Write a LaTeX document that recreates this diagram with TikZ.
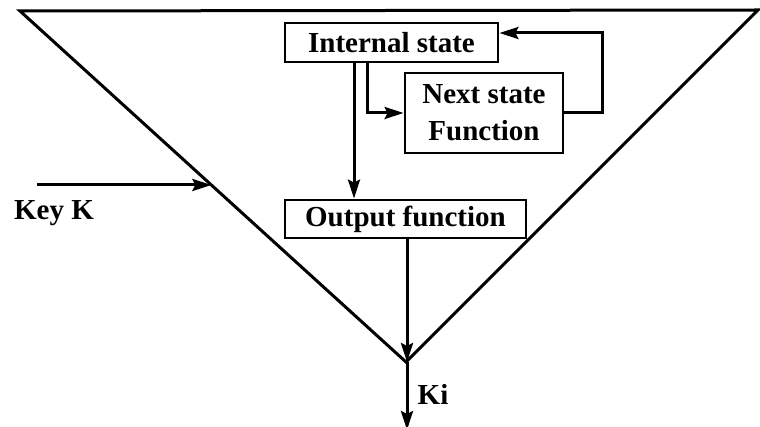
\documentclass[tikz,border=0pt]{standalone}
\usepackage{fontspec}
\setmainfont{Liberation Serif}
\usetikzlibrary{arrows.meta,calc}
\begin{document}
\begin{tikzpicture}[x=1pt,y=-1pt,
  line width=3pt,
  arr/.style={-{Stealth[length=19pt,width=12pt,inset=3pt]}},
  blk/.style={draw, line width=2.8pt, inner sep=0pt, font=\fontsize{29}{33}\selectfont\bfseries, align=center},
  lbl/.style={font=\fontsize{29}{33}\selectfont\bfseries, inner sep=0pt}]
\useasboundingbox (0,0) rectangle (760,427);
% the large inverted triangle
\coordinate (tl) at (20,11);
\coordinate (tr) at (758,10);
\coordinate (apex) at (406,362);
\draw (tl) -- (tr) -- (apex) -- cycle;
% blocks
\node[blk, minimum width=213pt, minimum height=39pt] (int) at (391.5,42.5) {Internal state};
\node[blk, minimum width=158pt, minimum height=80pt] (nxt) at (484,113) {Next state\\[4pt]Function};
\node[blk, minimum width=241pt, minimum height=38pt] (out) at (405.5,219) {Output function};
% feedback from next state back to internal state
\coordinate (fbR) at (602,113);
\coordinate (fbT) at (602,33);
\draw[arr] (nxt.east |- fbR) -- (fbR) -- (fbT) -- (int.east |- fbT);
% internal state into next state
\coordinate (toN) at (367,113);
\draw[arr] (int.south -| toN) -- (toN) -- (nxt.west |- toN);
% internal state into output function
\coordinate (toO) at (354,0);
\draw[arr] (int.south -| toO) -- (out.north -| toO);
% output down to the apex and out as Ki
\coordinate (oB) at (407,0);
\coordinate (vx) at (407,362);
\coordinate (kend) at (407,430);
\draw[arr] (out.south -| oB) -- (vx);
\draw[arr] (vx) -- (kend);
\node[lbl] (ki) at (433,394) {Ki};
% key input, ending on the left side of the triangle
\coordinate (kstart) at (37,185);
\coordinate (khit) at ($(tl)!0.4957!(apex)$);
\draw[arr] (kstart) -- (kstart -| khit);
\node[lbl] (key) at (54,213) {Key K};
\end{tikzpicture}
\end{document}
